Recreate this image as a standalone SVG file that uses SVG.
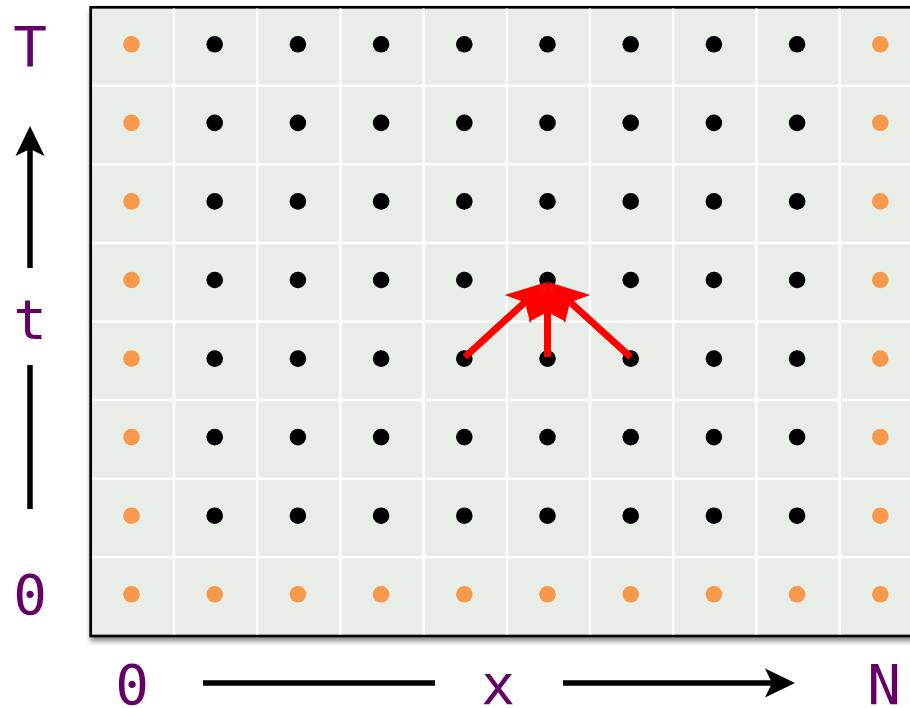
<svg xmlns="http://www.w3.org/2000/svg" width="910" height="708" viewBox="0 0 910 708">
<style>
.lbl{font-family:"DejaVu Sans Mono","Liberation Mono",monospace;font-size:56px;fill:#660066;text-anchor:middle}
.grid{stroke:#ffffff;stroke-width:2.5}
.blk{fill:#000000}
.org{fill:#f7994a}
.axis{stroke:#000000;stroke-width:5.5;fill:none}
.red{stroke:#ff0000;stroke-width:7;fill:none}
</style>
<defs>
<filter id="sh" x="-5%" y="-5%" width="115%" height="115%">
<feDropShadow dx="1" dy="4" stdDeviation="2.5" flood-color="#000" flood-opacity="0.45"/>
</filter>
<marker id="rh" markerUnits="userSpaceOnUse" markerWidth="50" markerHeight="50" viewBox="-25 -25 50 50" refX="0" refY="0" orient="auto" overflow="visible">
<path d="M20,0 L-20,-19 L-10,0 L-20,19 Z" fill="#ff0000"/>
</marker>
<marker id="ah" markerUnits="userSpaceOnUse" markerWidth="40" markerHeight="40" viewBox="-20 -20 40 40" refX="0" refY="0" orient="auto" overflow="visible">
<path d="M15,0 L-15,-14.5 L-8,0 L-15,14.5 Z" fill="#000000"/>
</marker>
</defs>
<g id="board">
<rect x="90.7" y="7.3" width="900" height="628.7" fill="#e9ede7" stroke="#000" stroke-width="2.7" filter="url(#sh)"/>
<g class="grid">
<line x1="174" y1="8.6" x2="174" y2="634.6"/>
<line x1="257.2" y1="8.6" x2="257.2" y2="634.6"/>
<line x1="340.4" y1="8.6" x2="340.4" y2="634.6"/>
<line x1="423.6" y1="8.6" x2="423.6" y2="634.6"/>
<line x1="506.8" y1="8.6" x2="506.8" y2="634.6"/>
<line x1="590" y1="8.6" x2="590" y2="634.6"/>
<line x1="673.2" y1="8.6" x2="673.2" y2="634.6"/>
<line x1="756.4" y1="8.6" x2="756.4" y2="634.6"/>
<line x1="839.6" y1="8.6" x2="839.6" y2="634.6"/>
<line x1="92" y1="85.7" x2="910" y2="85.7"/>
<line x1="92" y1="164.3" x2="910" y2="164.3"/>
<line x1="92" y1="242.9" x2="910" y2="242.9"/>
<line x1="92" y1="321.5" x2="910" y2="321.5"/>
<line x1="92" y1="400.1" x2="910" y2="400.1"/>
<line x1="92" y1="478.7" x2="910" y2="478.7"/>
<line x1="92" y1="557.3" x2="910" y2="557.3"/>
</g>
</g>
<g id="dots">
<g class="org">
<circle cx="131.5" cy="44.3" r="8.3"/><circle cx="131.5" cy="122.9" r="8.3"/><circle cx="131.5" cy="201.4" r="8.3"/><circle cx="131.5" cy="280" r="8.3"/><circle cx="131.5" cy="358.6" r="8.3"/><circle cx="131.5" cy="437.1" r="8.3"/><circle cx="131.5" cy="515.7" r="8.3"/><circle cx="131.5" cy="594.3" r="8.3"/>
<circle cx="880.3" cy="44.3" r="8.3"/><circle cx="880.3" cy="122.9" r="8.3"/><circle cx="880.3" cy="201.4" r="8.3"/><circle cx="880.3" cy="280" r="8.3"/><circle cx="880.3" cy="358.6" r="8.3"/><circle cx="880.3" cy="437.1" r="8.3"/><circle cx="880.3" cy="515.7" r="8.3"/><circle cx="880.3" cy="594.3" r="8.3"/>
<circle cx="214.7" cy="594.3" r="8.3"/><circle cx="297.9" cy="594.3" r="8.3"/><circle cx="381.1" cy="594.3" r="8.3"/><circle cx="464.3" cy="594.3" r="8.3"/><circle cx="547.5" cy="594.3" r="8.3"/><circle cx="630.7" cy="594.3" r="8.3"/><circle cx="713.9" cy="594.3" r="8.3"/><circle cx="797.1" cy="594.3" r="8.3"/>
</g>
<g class="blk">
<circle cx="214.7" cy="44.3" r="8.3"/><circle cx="297.9" cy="44.3" r="8.3"/><circle cx="381.1" cy="44.3" r="8.3"/><circle cx="464.3" cy="44.3" r="8.3"/><circle cx="547.5" cy="44.3" r="8.3"/><circle cx="630.7" cy="44.3" r="8.3"/><circle cx="713.9" cy="44.3" r="8.3"/><circle cx="797.1" cy="44.3" r="8.3"/>
<circle cx="214.7" cy="122.9" r="8.3"/><circle cx="297.9" cy="122.9" r="8.3"/><circle cx="381.1" cy="122.9" r="8.3"/><circle cx="464.3" cy="122.9" r="8.3"/><circle cx="547.5" cy="122.9" r="8.3"/><circle cx="630.7" cy="122.9" r="8.3"/><circle cx="713.9" cy="122.9" r="8.3"/><circle cx="797.1" cy="122.9" r="8.3"/>
<circle cx="214.7" cy="201.4" r="8.3"/><circle cx="297.9" cy="201.4" r="8.3"/><circle cx="381.1" cy="201.4" r="8.3"/><circle cx="464.3" cy="201.4" r="8.3"/><circle cx="547.5" cy="201.4" r="8.3"/><circle cx="630.7" cy="201.4" r="8.3"/><circle cx="713.9" cy="201.4" r="8.3"/><circle cx="797.1" cy="201.4" r="8.3"/>
<circle cx="214.7" cy="280" r="8.3"/><circle cx="297.9" cy="280" r="8.3"/><circle cx="381.1" cy="280" r="8.3"/><circle cx="464.3" cy="280" r="8.3"/><circle cx="547.5" cy="280" r="8.3"/><circle cx="630.7" cy="280" r="8.3"/><circle cx="713.9" cy="280" r="8.3"/><circle cx="797.1" cy="280" r="8.3"/>
<circle cx="214.7" cy="358.6" r="8.3"/><circle cx="297.9" cy="358.6" r="8.3"/><circle cx="381.1" cy="358.6" r="8.3"/><circle cx="464.3" cy="358.6" r="8.3"/><circle cx="547.5" cy="358.6" r="8.3"/><circle cx="630.7" cy="358.6" r="8.3"/><circle cx="713.9" cy="358.6" r="8.3"/><circle cx="797.1" cy="358.6" r="8.3"/>
<circle cx="214.7" cy="437.1" r="8.3"/><circle cx="297.9" cy="437.1" r="8.3"/><circle cx="381.1" cy="437.1" r="8.3"/><circle cx="464.3" cy="437.1" r="8.3"/><circle cx="547.5" cy="437.1" r="8.3"/><circle cx="630.7" cy="437.1" r="8.3"/><circle cx="713.9" cy="437.1" r="8.3"/><circle cx="797.1" cy="437.1" r="8.3"/>
<circle cx="214.7" cy="515.7" r="8.3"/><circle cx="297.9" cy="515.7" r="8.3"/><circle cx="381.1" cy="515.7" r="8.3"/><circle cx="464.3" cy="515.7" r="8.3"/><circle cx="547.5" cy="515.7" r="8.3"/><circle cx="630.7" cy="515.7" r="8.3"/><circle cx="713.9" cy="515.7" r="8.3"/><circle cx="797.1" cy="515.7" r="8.3"/>
</g>
</g>
<g id="connectors">
<line class="red" x1="465" y1="357" x2="532.2" y2="295.5" marker-end="url(#rh)"/>
<line class="red" x1="547.5" y1="357" x2="547.5" y2="302" marker-end="url(#rh)"/>
<line class="red" x1="630.5" y1="357" x2="562.8" y2="295.5" marker-end="url(#rh)"/>
<line class="axis" x1="30" y1="268" x2="30" y2="141" marker-end="url(#ah)"/>
<line class="axis" x1="30" y1="365" x2="30" y2="509"/>
<line class="axis" x1="203" y1="683" x2="435" y2="683"/>
<line class="axis" x1="563" y1="683" x2="780" y2="683" marker-end="url(#ah)"/>
</g>
<g id="labels">
<text class="lbl" x="30" y="66">T</text>
<text class="lbl" x="30" y="339">t</text>
<text class="lbl" x="30" y="614">0</text>
<text class="lbl" x="132" y="704">0</text>
<text class="lbl" x="498" y="704">x</text>
<text class="lbl" x="884" y="704">N</text>
</g>
</svg>
